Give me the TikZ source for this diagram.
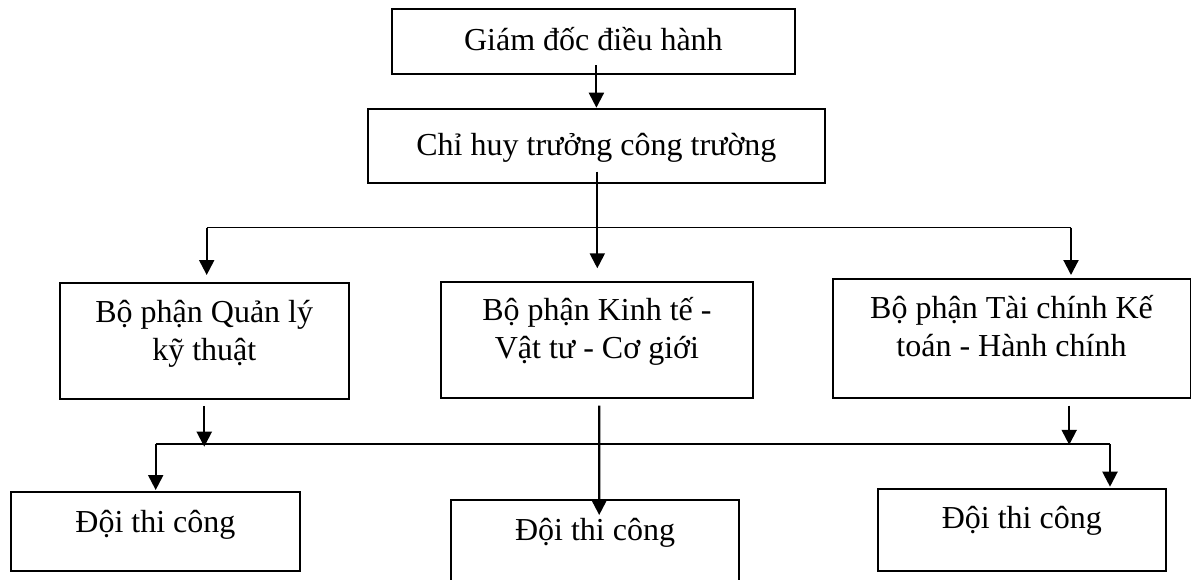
\documentclass[tikz,border=0pt]{standalone}
\usepackage{fontspec}
\setmainfont{Liberation Serif}
\usetikzlibrary{arrows.meta,calc}
\newcommand{\twoline}[2]{\begin{tabular}[t]{@{}c@{}}#1\\#2\end{tabular}}
\begin{document}
\begin{tikzpicture}[x=1pt,y=-1pt,
  box/.style={draw, line width=1.8pt, anchor=north west, inner sep=0pt, font=\fontsize{32}{38}\selectfont},
  arr/.style={line width=2.1pt, -{Triangle[length=15pt,width=15pt]}},
  hline/.style={line width=1.6pt}]
\useasboundingbox (0,0) rectangle (1191,579);
\clip (0,0) rectangle (1191,579);

\node[box, minimum width=403.6pt, text height=41.7pt, text depth=23.3pt] (T) at (390.7,8.3) {Giám đốc điều hành};
\node[box, minimum width=457pt, text height=47.3pt, text depth=27.3pt] (C) at (367,107.7) {Chỉ huy trưởng công trường};
\node[box, minimum width=288.7pt, text height=40pt, text depth=76pt] (L) at (59,281.7) {\twoline{Bộ phận Quản lý}{kỹ thuật}};
\node[box, minimum width=312pt, text height=39.3pt, text depth=77.4pt] (M) at (440,280.7) {\twoline{Bộ phận Kinh tế -}{Vật tư - Cơ giới}};
\node[box, minimum width=357.8pt, text height=39.7pt, text depth=79.2pt] (R) at (831.7,278.3) {\twoline{Bộ phận Tài chính Kế}{toán - Hành chính}};
\node[box, minimum width=289pt, text height=40.7pt, text depth=38.3pt] (B1) at (10,491) {Đội thi công};
\node[box, minimum width=288.3pt, text height=40.7pt, text depth=70pt] (B2) at (450,499.3) {Đội thi công};
\node[box, minimum width=288.3pt, text height=40.3pt, text depth=42pt] (B3) at (876.7,487.7) {Đội thi công};

% upper connectors
\coordinate (c1) at (597.3,171.7);
\coordinate (h1l) at (206.7,227.5);
\coordinate (h1r) at (1071,227.5);
\draw[arr] ($(T.south -| C.north)+(0,-10)$) -- (C.north);
\draw[hline] (h1l) -- (h1r);
\draw[arr, shorten >=12.4pt] (c1) -- (c1 |- M.north);
\draw[arr, shorten >=6.7pt] (h1l) -- (h1l |- L.north);
\draw[arr, shorten >=3.3pt] (h1r) -- (h1r |- R.north);

% lower connectors
\coordinate (h2l) at (155.7,444);
\coordinate (h2r) at (1110,444);
\draw[hline] (h2l) -- (h2r);
\draw[arr, shorten >=-2.7pt] ($(L.south)+(0,6.3)$) -- (L.south |- h2l);
\draw[arr] ($(M.south)+(2.3,6.3)$) -- ($(B2.north)+(4.15,15.7)$);
\draw[arr] ($(R.south)+(57.7,6.5)$) -- ++(0,39.3);
\draw[arr, shorten >=1pt] (h2l) -- (h2l |- B1.north);
\draw[arr, shorten >=1pt] (h2r) -- (h2r |- B3.north);
\end{tikzpicture}
\end{document}
